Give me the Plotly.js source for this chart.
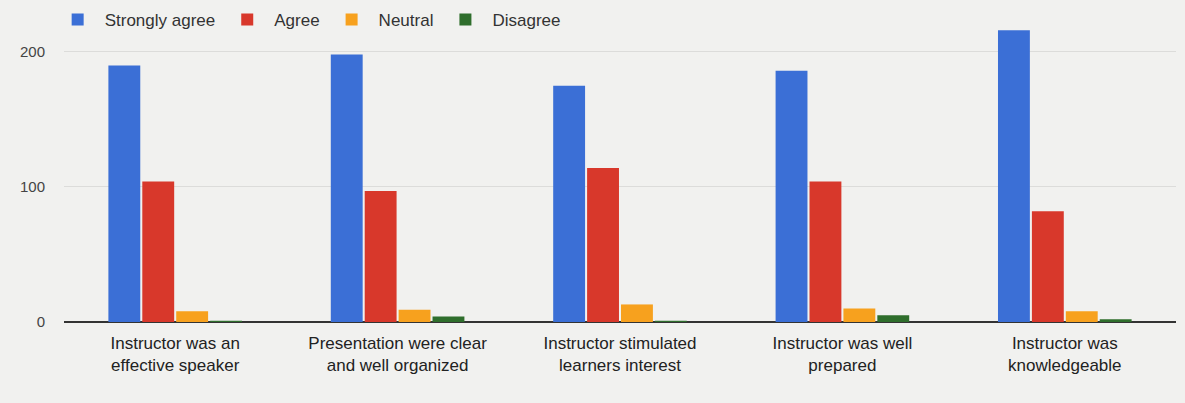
<!DOCTYPE html>
<html><head><meta charset="utf-8">
<script src="https://cdn.plot.ly/plotly-3.0.1.min.js"></script>
<style>html,body{margin:0;padding:0;background:#f1f1ef;}#chart{width:1185px;height:403px;}</style>
</head><body><div id="chart"></div>
<script>
const categories = [
  "Instructor was an<br>effective speaker",
  "Presentation were clear<br>and well organized",
  "Instructor stimulated<br>learners interest",
  "Instructor was well<br>prepared",
  "Instructor was<br>knowledgeable"
];
const seriesNames = ["Strongly agree", "Agree", "Neutral", "Disagree"];
const stronglyAgree = [190, 198, 175, 186, 216];
const agree = [104, 97, 114, 104, 82];
const neutral = [8, 9, 13, 10, 8];
const disagree = [1, 4, 1, 5, 2];
const colors = ["#3b6fd6", "#d8382b", "#f7a11e", "#2f6e2c"];
const values = [stronglyAgree, agree, neutral, disagree];

const traces = values.map((v, i) => ({
  type: "bar", x: categories, y: v, name: seriesNames[i],
  marker: {color: colors[i]}, hoverinfo: "y+name"
}));

const layout = {
  width: 1185, height: 403,
  paper_bgcolor: "#f1f1ef", plot_bgcolor: "#f1f1ef",
  margin: {l: 64, r: 9, t: 10, b: 81, autoexpand: false},
  barmode: "group", bargap: 0.39, bargroupgap: 0.06,
  font: {family: "Liberation Sans, Arial, sans-serif", color: "#333"},
  showlegend: true,
  legend: {orientation: "h", x: -0.012, y: 0.968, xanchor: "left", yanchor: "middle",
           font: {size: 17, color: "#333"}, bgcolor: "rgba(0,0,0,0)", itemwidth: 44, traceorder: "normal"},
  xaxis: {type: "category", tickfont: {size: 17, color: "#222"}, showgrid: false,
          ticks: "", showline: false, ticklabelstandoff: 9, automargin: false},
  yaxis: {range: [0, 231], tickvals: [0, 100, 200], ticktext: ["0", "100", "200"],
          tickfont: {size: 15, color: "#444"}, gridcolor: "#dcdcda", gridwidth: 1, automargin: false,
          zeroline: true, zerolinecolor: "#333", zerolinewidth: 1.5, ticklabelstandoff: 18}
};
Plotly.newPlot("chart", traces, layout, {displayModeBar: false, staticPlot: true});
</script></body></html>
